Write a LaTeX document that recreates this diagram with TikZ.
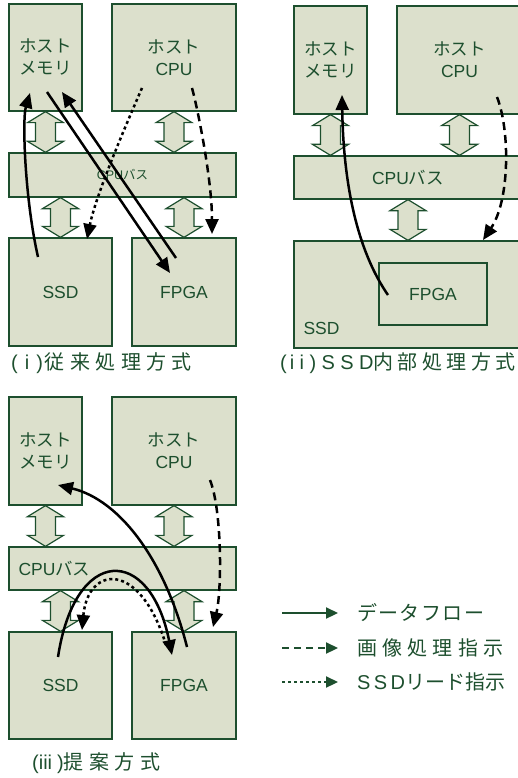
\documentclass[tikz,border=0pt]{standalone}
\usepackage{fontspec}
\setmainfont{Liberation Sans}
\newfontfamily\jp{Noto Sans CJK JP}
\newfontfamily\jplg{Noto Sans CJK JP}[LetterSpace=7]
\newfontfamily\jplgw{Noto Sans CJK JP}[LetterSpace=26]
\newfontfamily\latlg{Liberation Sans}[LetterSpace=17]
\newfontfamily\jpcap{Noto Sans CJK JP}[LetterSpace=27]
\newfontfamily\jpcapn{Noto Sans CJK JP}[LetterSpace=22]
\newfontfamily\latcap{Liberation Sans}[LetterSpace=27]
\usetikzlibrary{arrows.meta,calc}
\definecolor{dkgreen}{HTML}{1D4F2E}
\definecolor{boxfill}{HTML}{DCE0CC}
\tikzset{
  box/.style={draw=dkgreen, fill=boxfill, line width=1.3pt, text=dkgreen, align=center, inner sep=0pt, font=\fontsize{17.5}{22}\selectfont},
  lbl/.style={text=dkgreen, inner sep=0pt},
  busarr/.style={draw=dkgreen, fill=boxfill, line width=1.2pt},
  flow/.style={line width=2.5pt, -{Triangle[length=15pt,width=13pt]}},
  instr/.style={flow, dash pattern=on 8pt off 5pt},
  ssdread/.style={flow, dash pattern=on 3pt off 3pt},
  lgflow/.style={dkgreen, line width=2.2pt, -{Triangle[length=12pt,width=11pt]}},
  lgtext/.style={lbl, anchor=west, font=\fontsize{20}{22}\selectfont},
  captext/.style={lbl, anchor=west, font=\fontsize{20}{22}\selectfont}
}
\newcommand{\busarrow}[2]{%
  \draw[busarr] let \p1=(#1), \p2=(#2) in
    (\x1,\y1) -- (\x1+18pt,\y1-11pt) -- (\x1+10pt,\y1-11pt) -- (\x1+10pt,\y2+11pt) -- (\x1+18pt,\y2+11pt) -- (\x1,\y2)
    -- (\x1-18pt,\y2+11pt) -- (\x1-10pt,\y2+11pt) -- (\x1-10pt,\y1-11pt) -- (\x1-18pt,\y1-11pt) -- cycle;}

\begin{document}
\begin{tikzpicture}[x=1pt,y=1pt]
\useasboundingbox (0,0) rectangle (518,-778);

\node[box, minimum width=73pt, minimum height=107pt] (mem1) at (45.5,-57.5) {{\jp ホスト}\\{\jp メモリ}};
\node[box, minimum width=124pt, minimum height=107pt] (cpu1) at (174,-57.5) {{\jp ホスト}\\CPU};
\node[box, minimum width=227pt, minimum height=44pt, font=\fontsize{12.5}{14}\selectfont] (bus1) at (122.5,-175) {CPU{\jp バス}};
\node[box, minimum width=103pt, minimum height=108pt] (ssd1) at (60.5,-292) {SSD};
\node[box, minimum width=104pt, minimum height=108pt] (fpga1) at (184,-292) {FPGA};
\busarrow{mem1.south}{mem1.south|-bus1.north}
\busarrow{cpu1.south}{cpu1.south|-bus1.north}
\busarrow{ssd1.north|-bus1.south}{ssd1.north}
\busarrow{fpga1.north|-bus1.south}{fpga1.north}
\draw[flow] ([shift={(-22.5,35)}]ssd1.center) .. controls +(-13,57) and +(-8,-27) .. ([shift={(-15.5,-35.5)}]mem1.center);
\draw[flow] ([shift={(1.5,-34.5)}]mem1.center) -- ([shift={(-14,19)}]fpga1.center);
\draw[flow] ([shift={(-8,34)}]fpga1.center) -- ([shift={(16.5,-34.5)}]mem1.center);
\draw[ssdread] ([shift={(-32,-30.5)}]cpu1.center) .. controls +(-27,-62) and +(8,39) .. ([shift={(26.5,53)}]ssd1.center);
\draw[instr] ([shift={(18,-30.5)}]cpu1.center) .. controls +(6,-22) and +(0,54) .. ([shift={(28,58)}]fpga1.center);
\node[captext] (cap1) at (11,-363) {{\latcap (\kern7pt i\kern7pt)\kern2pt}{\jpcap 従来処理方式}};

\node[box, minimum width=73pt, minimum height=108pt] (mem2) at (330.5,-60) {{\jp ホスト}\\{\jp メモリ}};
\node[box, minimum width=125pt, minimum height=108pt] (cpu2) at (459.5,-60) {{\jp ホスト}\\CPU};
\node[box, minimum width=228pt, minimum height=43pt] (bus2) at (408,-177.5) {CPU{\jp バス}};
\node[box, minimum width=228pt, minimum height=107pt] (ssd2) at (408,-294.5) {};
\node[box, minimum width=108pt, minimum height=62pt] (fpga2) at (433,-294) {FPGA};
\node[lbl, anchor=base west, font=\fontsize{17.5}{20}\selectfont] (ssdl2) at ([shift={(10,14)}]ssd2.south west) {SSD};
\busarrow{mem2.south}{mem2.south|-bus2.north}
\busarrow{cpu2.south}{cpu2.south|-bus2.north}
\busarrow{ssd2.north|-bus2.south}{ssd2.north}
\draw[flow] ([shift={(-45,-1)}]fpga2.center) .. controls +(-38,55) and +(1,-65) .. ([shift={(11.5,-35)}]mem2.center);
\draw[instr] ([shift={(37.5,-37)}]cpu2.center) .. controls +(13,-33) and +(27,40) .. ([shift={(75,54.5)}]ssd2.center);
\node[captext] (cap2) at (280,-363) {{\latcap (\kern3pt ii)SSD}{\jpcapn 内部処理方式}};

\node[box, minimum width=73pt, minimum height=108pt] (mem3) at (45.5,-451) {{\jp ホスト}\\{\jp メモリ}};
\node[box, minimum width=124pt, minimum height=108pt] (cpu3) at (174,-451) {{\jp ホスト}\\CPU};
\node[box, minimum width=227pt, minimum height=43pt] (bus3) at (122.5,-568.5) {};
\node[lbl, anchor=west, font=\fontsize{17.5}{20}\selectfont] (busl3) at ([xshift=10pt]bus3.west) {CPU{\jp バス}};
\node[box, minimum width=103pt, minimum height=107pt] (ssd3) at (60.5,-685.5) {SSD};
\node[box, minimum width=104pt, minimum height=107pt] (fpga3) at (184,-685.5) {FPGA};
\busarrow{mem3.south}{mem3.south|-bus3.north}
\busarrow{cpu3.south}{cpu3.south|-bus3.north}
\busarrow{ssd3.north|-bus3.south}{ssd3.north}
\busarrow{fpga3.north|-bus3.south}{fpga3.north}
\draw[flow] ([shift={(3,38.5)}]fpga3.center) .. controls +(-22,87) and +(62,-15) .. ([shift={(12.5,-34)}]mem3.center);
\draw[flow] ([shift={(-2.5,28.5)}]ssd3.center) .. controls +(17,112) and +(-22,110) .. ([shift={(-12,30.5)}]fpga3.center);
\draw[ssdread] ([shift={(-18,40.5)}]fpga3.center) .. controls +(-26,85) and +(6,65) .. ([shift={(21.5,55.5)}]ssd3.center);
\draw[instr] ([shift={(36,-29)}]cpu3.center) .. controls +(12,-30) and +(9,37) .. ([shift={(29,58.5)}]fpga3.center);
\node[captext] (cap3) at (32,-763) {{\latcap (}iii\kern5pt{\latcap )}{\jpcap 提案方式}};

\coordinate (lga1) at (282,-613);
\coordinate (lgb1) at (338,-613);
\coordinate (lga2) at (282,-648);
\coordinate (lgb2) at (338,-648);
\coordinate (lga3) at (282,-682);
\coordinate (lgb3) at (338,-682);
\draw[lgflow] (lga1) -- (lgb1);
\draw[lgflow, dash pattern=on 7pt off 5pt] (lga2) -- (lgb2);
\draw[lgflow, dash pattern=on 2.5pt off 3.5pt] (lga3) -- (lgb3);
\node[lgtext] (lgt1) at ([xshift=19pt]lgb1) {{\jplg データフロー}};
\node[lgtext] (lgt2) at ([xshift=19pt]lgb2) {{\jplgw 画像処理指示}};
\node[lgtext] (lgt3) at ([xshift=19pt]lgb3) {{\latlg SSD}{\jp リード指示}};
\end{tikzpicture}
\end{document}
